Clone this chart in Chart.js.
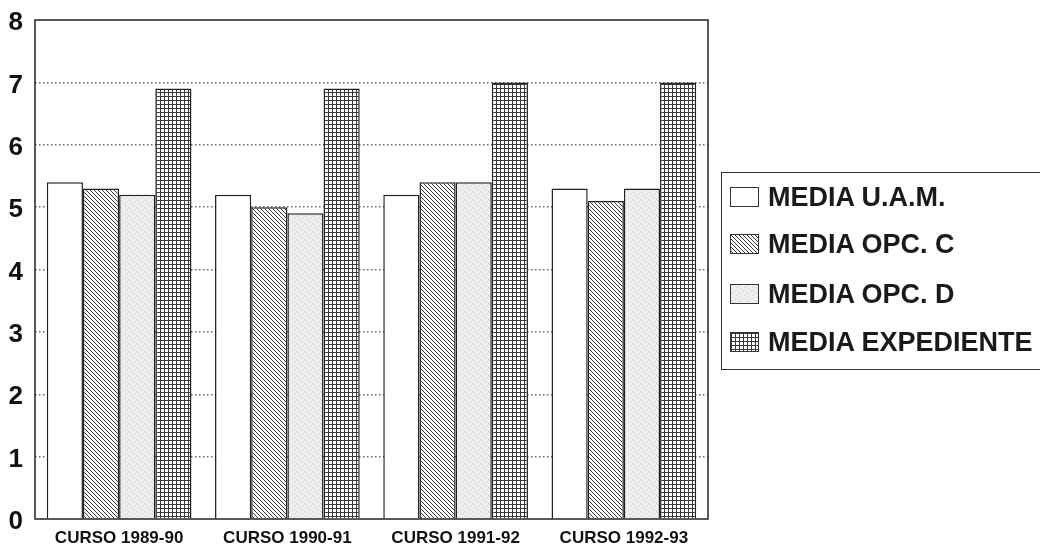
<!DOCTYPE html>
<html>
<head>
<meta charset="utf-8">
<script src="https://cdn.jsdelivr.net/npm/chart.js@4/dist/chart.umd.min.js"></script>
<style>
  body { margin: 0; background: #fff; }
  #wrap { position: relative; width: 1040px; height: 545px; overflow: hidden; }
  #legend {
    position: absolute; left: 721px; top: 172px; width: 340px; height: 198px;
    border: 1.5px solid #333; box-sizing: border-box;
    font-family: "Liberation Sans", Arial, sans-serif; font-weight: bold;
    font-size: 27px; color: #1a1a1a;
  }
  .item { position: absolute; left: 8px; height: 30px; display: flex; align-items: center; }
  .item canvas { border: 1px solid #333; margin-right: 9px; }
</style>
</head>
<body>
<div id="wrap">
  <canvas id="myChart" width="1040" height="545"></canvas>
  <div id="legend"></div>
</div>
<script>
const categories = ['CURSO 1989-90', 'CURSO 1990-91', 'CURSO 1991-92', 'CURSO 1992-93']
const seriesNames = ['MEDIA U.A.M.', 'MEDIA OPC. C', 'MEDIA OPC. D', 'MEDIA EXPEDIENTE']
const mediaUAM = [5.4, 5.2, 5.2, 5.3]
const mediaOpcC = [5.3, 5.0, 5.4, 5.1]
const mediaOpcD = [5.2, 4.9, 5.4, 5.3]
const mediaExpediente = [6.9, 6.9, 7.0, 7.0]
const yMin = 0
const yMax = 8
const yStep = 1

// little pattern tiles, like the old printed fills
function makeTile(w, h, draw) {
  const c = document.createElement('canvas')
  c.width = w
  c.height = h
  const g = c.getContext('2d')
  draw(g, w, h)
  return g.createPattern(c, 'repeat')
}

function whiteFill() {
  return '#ffffff'
}

function hatchFill() {
  return makeTile(4, 4, (g, w, h) => {
    g.fillStyle = '#fff'
    g.fillRect(0, 0, w, h)
    g.strokeStyle = '#3a3a3a'
    g.lineWidth = 1
    g.beginPath()
    g.moveTo(-1, -1); g.lineTo(w + 1, h + 1)
    g.moveTo(-1, h - 1); g.lineTo(1, h + 1)
    g.moveTo(w - 1, -1); g.lineTo(w + 1, 1)
    g.stroke()
  })
}

function speckleFill() {
  return makeTile(8, 8, (g, w, h) => {
    g.fillStyle = '#efefef'
    g.fillRect(0, 0, w, h)
    g.fillStyle = '#cfcfcf'
    const pts = [[1, 0], [5, 2], [2, 4], [6, 5], [0, 7], [4, 6], [7, 1]]
    for (let p of pts) g.fillRect(p[0], p[1], 1, 1)
  })
}

function gridFill() {
  return makeTile(4, 4, (g, w, h) => {
    g.fillStyle = '#fff'
    g.fillRect(0, 0, w, h)
    g.fillStyle = '#3a3a3a'
    g.fillRect(0, 0, w, 1)
    g.fillRect(0, 0, 1, h)
  })
}

const fills = [whiteFill(), hatchFill(), speckleFill(), gridFill()]
const seriesData = [mediaUAM, mediaOpcC, mediaOpcD, mediaExpediente]

const framePlugin = {
  id: 'frame',
  afterDatasetsDraw(chart) {
    const a = chart.chartArea
    const ctx = chart.ctx
    ctx.save()
    ctx.strokeStyle = '#222'
    ctx.lineWidth = 1.5
    ctx.strokeRect(a.left, a.top, a.right - a.left, a.bottom - a.top)
    ctx.restore()
  }
}

function drawChart() {
  const ctx = document.getElementById('myChart').getContext('2d')
  const chart = new Chart(ctx, {
    type: 'bar',
    data: {
      labels: categories,
      datasets: seriesNames.map((name, i) => ({
        label: name,
        data: seriesData[i],
        backgroundColor: fills[i],
        borderColor: '#222',
        borderWidth: 1.5,
        categoryPercentage: 0.86,
        barPercentage: 1.0
      }))
    },
    options: {
      responsive: false,
      animation: false,
      layout: { padding: { top: 20, right: 332, left: 0, bottom: 0 } },
      plugins: {
        legend: { display: false },
        tooltip: { enabled: false }
      },
      scales: {
        x: {
          grid: { display: false, drawTicks: false },
          border: { display: false },
          ticks: {
            color: '#111',
            font: { family: 'Liberation Sans', weight: 'bold', size: 17 },
            padding: 9,
            maxRotation: 0
          },
          afterFit(scale) { scale.height = 26 }
        },
        y: {
          min: yMin,
          max: yMax,
          border: { display: false, dash: [1.5, 2.5] },
          grid: {
            drawTicks: false,
            color: (c) => (c.tick.value === yMin || c.tick.value === yMax) ? 'rgba(0,0,0,0)' : '#666',
            lineWidth: 1.5
          },
          ticks: {
            stepSize: yStep,
            color: '#111',
            font: { family: 'Liberation Sans', weight: 'bold', size: 26, lineHeight: 0.6 },
            padding: 12,
            labelOffset: 3
          },
          afterFit(scale) { scale.width = 35 }
        }
      }
    },
    plugins: [framePlugin]
  })
  return chart
}

function drawLegend() {
  const box = document.getElementById('legend')
  const rowTops = [9, 56, 106, 154]
  seriesNames.forEach((name, i) => {
    const item = document.createElement('div')
    item.className = 'item'
    item.style.top = rowTops[i] + 'px'
    const sw = document.createElement('canvas')
    sw.width = 27
    sw.height = 18
    const g = sw.getContext('2d')
    g.fillStyle = fills[i]
    g.fillRect(0, 0, 27, 18)
    item.appendChild(sw)
    const t = document.createElement('span')
    t.textContent = name
    item.appendChild(t)
    box.appendChild(item)
  })
}

drawChart()
drawLegend()
</script>
</body>
</html>
